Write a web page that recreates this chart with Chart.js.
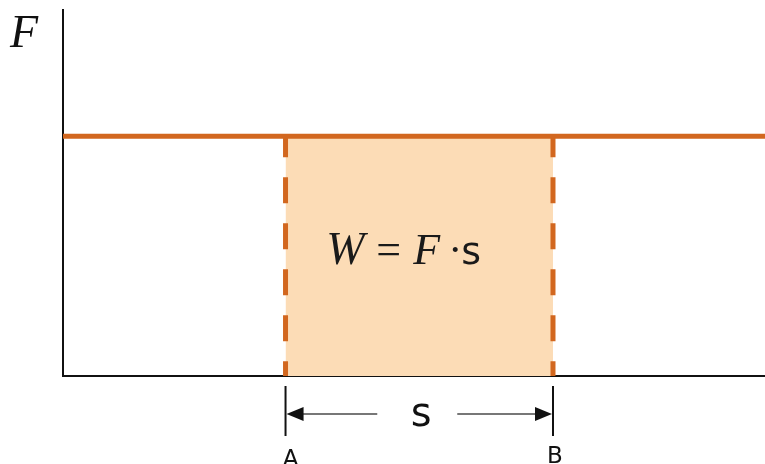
<!DOCTYPE html>
<html>
<head>
<meta charset="utf-8">
<script src="https://cdn.jsdelivr.net/npm/chart.js@4"></script>
<style>
  html, body { margin: 0; padding: 0; background: #fff; }
  #wrap { width: 765px; height: 464px; }
</style>
</head>
<body>
<div id="wrap"><canvas id="chart"></canvas></div>
<script>
// distance axis (0..100) and force axis (0..10)
const xRange = [0, 100];
const yRange = [0, 10];
const forceValue = 6.55;      // constant force F
const pointA = 31.7;          // start of displacement
const pointB = 69.8;          // end of displacement
const pointLabels = ['A', 'B'];
const axisLabel = 'F';

const orange = '#d2671f';
const peach = '#fcdcb6';
const serif = '"Liberation Serif", "DejaVu Serif", serif';
const sans = '"DejaVu Sans", sans-serif';

// labels, arrows and formula drawn from the scales
const annotations = {
  id: 'annotations',
  afterDraw(chart) {
    const { ctx, scales: { x, y } } = chart;
    const xa = x.getPixelForValue(pointA);
    const xb = x.getPixelForValue(pointB);
    const y0 = y.getPixelForValue(0);
    ctx.save();

    // axis label F
    ctx.fillStyle = '#111';
    ctx.font = 'italic 46px ' + serif;
    ctx.textBaseline = 'alphabetic';
    ctx.textAlign = 'left';
    ctx.fillText(axisLabel, 10, 47);

    // formula W = F · s
    const cx = (xa + xb) / 2;
    const cy = y.getPixelForValue(forceValue / 2) + 8;
    const parts = [
      { t: 'W', f: 'italic 46px ' + serif, dx: -93 },
      { t: '=', f: '44px ' + serif, dx: -43 },
      { t: 'F', f: 'italic 44px ' + serif, dx: -6 },
      { t: '\u00b7', f: '42px ' + serif, dx: 29 },
      { t: 's', f: '38px ' + sans, dx: 42 }
    ];
    ctx.fillStyle = '#1a1a1a';
    parts.forEach(p => { ctx.font = p.f; ctx.fillText(p.t, cx + p.dx, cy); });

    // tick marks under A and B
    ctx.strokeStyle = '#111';
    ctx.lineWidth = 2;
    [xa, xb].forEach(px2 => {
      ctx.beginPath();
      ctx.moveTo(px2, y0 + 10);
      ctx.lineTo(px2, y0 + 60);
      ctx.stroke();
    });

    // displacement arrows
    const ay = y0 + 38;
    ctx.strokeStyle = '#777';
    ctx.lineWidth = 2;
    ctx.beginPath();
    ctx.moveTo(xa + 14, ay); ctx.lineTo(cx - 42, ay);
    ctx.moveTo(cx + 38, ay); ctx.lineTo(xb - 14, ay);
    ctx.stroke();
    ctx.fillStyle = '#111';
    ctx.beginPath();
    ctx.moveTo(xa + 1, ay); ctx.lineTo(xa + 18, ay - 7); ctx.lineTo(xa + 18, ay + 7); ctx.closePath();
    ctx.fill();
    ctx.beginPath();
    ctx.moveTo(xb - 1, ay); ctx.lineTo(xb - 18, ay - 7); ctx.lineTo(xb - 18, ay + 7); ctx.closePath();
    ctx.fill();

    ctx.font = '40px ' + sans;
    ctx.textAlign = 'center';
    ctx.textBaseline = 'alphabetic';
    ctx.fillText('s', cx + 2, ay + 12);

    // A and B labels
    ctx.font = '23px ' + sans;
    ctx.fillText(pointLabels[0], xa + 5, y0 + 90);
    ctx.fillText(pointLabels[1], xb + 2, y0 + 87);
    ctx.restore();
  }
};

new Chart(document.getElementById('chart'), {
  type: 'line',
  data: {
    datasets: [
      {
        label: 'force',
        data: [{ x: xRange[0], y: forceValue }, { x: xRange[1], y: forceValue }],
        borderColor: orange,
        borderWidth: 5,
        pointRadius: 0,
        order: 0
      },
      {
        label: 'dashA',
        data: [{ x: pointA, y: forceValue }, { x: pointA, y: yRange[0] }],
        borderColor: orange,
        borderWidth: 5,
        borderDash: [26, 20],
        borderDashOffset: 5,
        pointRadius: 0,
        order: 1
      },
      {
        label: 'dashB',
        data: [{ x: pointB, y: forceValue }, { x: pointB, y: yRange[0] }],
        borderColor: orange,
        borderWidth: 5,
        borderDash: [26, 20],
        borderDashOffset: 5,
        pointRadius: 0,
        order: 1
      },
      {
        label: 'work',
        data: [{ x: pointA, y: forceValue }, { x: pointB, y: forceValue }],
        borderWidth: 0,
        borderColor: 'rgba(0,0,0,0)',
        backgroundColor: peach,
        fill: 'origin',
        pointRadius: 0,
        order: 2
      }
    ]
  },
  options: {
    responsive: true,
    maintainAspectRatio: false,
    animation: false,
    layout: { padding: { left: 63, top: 10, right: 0, bottom: 88 } },
    plugins: { legend: { display: false }, tooltip: { enabled: false } },
    scales: {
      x: {
        type: 'linear',
        min: xRange[0],
        max: xRange[1],
        grid: { display: false, drawTicks: false },
        ticks: { display: false },
        border: { display: true, color: '#111', width: 2 }
      },
      y: {
        type: 'linear',
        min: yRange[0],
        max: yRange[1],
        grid: { display: false, drawTicks: false },
        ticks: { display: false },
        border: { display: true, color: '#111', width: 2 }
      }
    }
  },
  plugins: [annotations]
});
</script>
</body>
</html>
